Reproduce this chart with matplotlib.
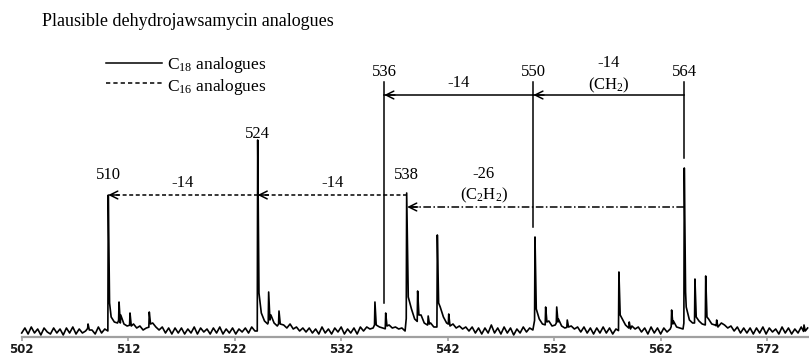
import numpy as np
import matplotlib.pyplot as plt

plt.rcParams["font.family"] = ["Liberation Serif", "DejaVu Serif"]
plt.rcParams["mathtext.fontset"] = "custom"
plt.rcParams["mathtext.rm"] = "Liberation Serif"
plt.rcParams["mathtext.it"] = "Liberation Serif:italic"

# spectrum baseline, one reading every 0.3 m/z starting at 502
baseline_start = 502.0
baseline_step = 0.3
baseline = [
    4, 9, 3, 10, 4, 8, 2, 9, 5, 3,
    9, 4, 8, 2, 9, 4, 10, 3, 8, 4,
    6, 10, 7, 3, 10, 4, 8, 6, 20, 15,
    14, 22, 13, 11, 12, 13, 9, 11, 7, 9,
    10, 14, 10, 7, 10, 4, 9, 3, 9, 4,
    9, 3, 8, 4, 10, 3, 9, 5, 8, 3,
    9, 4, 10, 3, 8, 4, 9, 3, 8, 5,
    9, 4, 10, 6, 6, 24, 16, 13, 22, 14,
    11, 16, 12, 9, 13, 8, 10, 6, 9, 5,
    9, 4, 8, 3, 10, 4, 8, 3, 9, 5,
    10, 3, 8, 4, 9, 3, 10, 6, 10, 8,
    9, 16, 10, 9, 8, 12, 9, 10, 8, 9,
    6, 40, 28, 18, 15, 22, 14, 12, 14, 10,
    10, 30, 20, 14, 12, 13, 9, 11, 8, 10,
    6, 10, 4, 9, 3, 9, 4, 12, 4, 9,
    3, 10, 4, 9, 2, 8, 4, 10, 5, 9,
    7, 25, 18, 13, 12, 16, 11, 12, 18, 11,
    9, 10, 11, 8, 10, 5, 10, 4, 9, 3,
    9, 4, 10, 4, 9, 3, 8, 6, 18, 12,
    9, 11, 8, 10, 5, 9, 3, 10, 4, 9,
    3, 9, 5, 8, 16, 10, 9, 8, 30, 17,
    14, 14, 16, 13, 12, 18, 13, 12, 10, 14,
    12, 9, 11, 6, 10, 4, 9, 4, 9, 3,
    9, 4, 10, 3, 9, 5, 8, 3, 10, 4,
    9, 3, 8, 4, 10, 4, 9,
]

# peaks: apex position, apex height, height just after the apex
peak_mz = [508.23, 510.13, 511.14, 512.17, 513.98, 524.16, 525.19, 526.16,
           535.17, 536.18, 538.15, 539.18, 540.17, 541.03, 542.10, 550.20,
           551.20, 552.24, 553.23, 558.08, 559.05, 563.03, 564.22, 565.22,
           566.23, 567.26, 575.46]
peak_height = [13, 142, 35, 24, 25, 197, 45, 26,
               35, 24, 144, 46, 21, 102, 23, 100,
               30, 30, 17, 65, 15, 27, 169, 58,
               61, 17, 12]
peak_tail = [7, 34, 14, 11, 13, 44, 17, 13,
             12, 11, 60, 22, 13, 34, 11, 28,
             15, 15, 10, 22, 8, 13, 45, 20,
             20, 10, 6]

tick_values = [502, 512, 522, 532, 542, 552, 562, 572]

# C18 series (solid) and C16 series (dashed)
c18_labels = ["536", "550", "564"]
c18_mz = [536.05, 550.05, 564.20]
c16_labels = ["510", "524", "538"]
c16_mz = [510.13, 524.16, 538.15]

# build the trace from the baseline readings and the peak apexes
grid = baseline_start + baseline_step * np.arange(len(baseline))
base = np.array(baseline, dtype=float)
keep = np.ones(len(grid), dtype=bool)
for m in peak_mz:
    keep &= ~((grid > m - 0.05) & (grid < m + 0.15))
xs = list(grid[keep])
ys = list(base[keep])
for m, h, t in zip(peak_mz, peak_height, peak_tail):
    xs += [m - 0.04, m, m + 0.12]
    ys += [np.interp(m - 0.04, grid, base), h, t]
order = np.argsort(xs)
trace_x = np.array(xs)[order]
trace_y = np.array(ys)[order]

fig = plt.figure(figsize=(8.09, 3.55), dpi=100)
ax = fig.add_axes((21.7 / 809, 18 / 355, 1 - 21.7 / 809, 337 / 355))
ax.set_xlim(502, 575.93)
ax.set_ylim(0, 337)

ax.plot(trace_x, trace_y, color="black", lw=1.2, clip_on=False)

# axis styling
for side in ["top", "right", "left"]:
    ax.spines[side].set_visible(False)
ax.spines["bottom"].set_color("#a0a0a0")
ax.spines["bottom"].set_linewidth(1.6)
ax.set_yticks([])
ax.set_xticks(tick_values)
ax.set_xticklabels([str(v) for v in tick_values])
ax.tick_params(axis="x", length=3, width=1.2, color="#a0a0a0", pad=1.5,
               labelsize=8.5, labelcolor="#1a1a1a")
for lab in ax.get_xticklabels():
    lab.set_fontfamily(["Liberation Sans Narrow", "DejaVu Sans"])
    lab.set_fontweight("bold")

LW = 1.1


def arrow(x_start, x_tip, y, ls):
    # shaft drawn as a line so dashes do not break the head
    ax.plot([x_start, x_tip], [y, y], color="black", lw=LW, linestyle=ls)
    ax.annotate("", xy=(x_tip, y), xytext=(x_tip + 1.0, y),
                arrowprops=dict(arrowstyle="->", lw=LW, color="black",
                                shrinkA=0, shrinkB=0, mutation_scale=14))


# C18 analogues: vertical markers and -14 arrows
c18_arrow_y = 242
c18_line_top = 255
c18_line_bottom = [34, 110, 179]
for m, lab, yb in zip(c18_mz, c18_labels, c18_line_bottom):
    ax.plot([m, m], [yb, c18_line_top], color="black", lw=LW)
    ax.text(m, 261, lab, ha="center", va="baseline", fontsize=12)
arrow(c18_mz[2], c18_mz[1], c18_arrow_y, "-")
arrow(c18_mz[1], c18_mz[0], c18_arrow_y, "-")
ax.text((c18_mz[0] + c18_mz[1]) / 2, 250.3, "-14", ha="center",
        va="baseline", fontsize=12)
mid = (c18_mz[1] + c18_mz[2]) / 2
ax.text(mid, 270.3, "-14", ha="center", va="baseline", fontsize=12)
ax.text(mid, 248, "(CH$_2$)", ha="center", va="baseline", fontsize=12)

# C16 analogues: dashed -14 arrows
c16_arrow_y = 142
dash = (0, (2.6, 1.7))
arrow(c16_mz[2], c16_mz[1], c16_arrow_y, dash)
arrow(c16_mz[1], c16_mz[0], c16_arrow_y, dash)
ax.text(c16_mz[0], 157.7, c16_labels[0], ha="center", va="baseline", fontsize=12)
ax.text(c16_mz[1], 198.7, c16_labels[1], ha="center", va="baseline", fontsize=12)
ax.text(c16_mz[2] - 0.05, 157.7, c16_labels[2], ha="center", va="baseline",
        fontsize=12)
ax.text((c16_mz[0] + c16_mz[1]) / 2, 150.3, "-14", ha="center",
        va="baseline", fontsize=12)
ax.text((c16_mz[1] + c16_mz[2]) / 2, 150.3, "-14", ha="center",
        va="baseline", fontsize=12)

# C18 -> C16: -26 (C2H2) dash-dot arrow
arrow(c18_mz[2], c16_mz[2] + 0.05, 130, (0, (5, 1.6, 1, 1.6)))
ax.text(545.4, 158.7, "-26", ha="center", va="baseline", fontsize=12)
ax.text(545.4, 137.7, "(C$_2$H$_2$)", ha="center", va="baseline", fontsize=12)

# legend
ax.plot([509.92, 515.17], [274.3, 274.3], color="black", lw=LW, clip_on=False)
ax.plot([509.92, 515.17], [253.7, 253.7], color="black", lw=LW,
        linestyle=(0, (2.8, 2.0)), clip_on=False)
ax.text(515.6, 267.7, "C$_{18}$ analogues", ha="left", va="baseline",
        fontsize=12.5)
ax.text(515.6, 245.6, "C$_{16}$ analogues", ha="left", va="baseline",
        fontsize=12.5)

fig.text(42 / 809, 1 - 26 / 355, "Plausible dehydrojawsamycin analogues",
         ha="left", va="baseline", fontsize=13)

fig.savefig("out.png", dpi=100)
